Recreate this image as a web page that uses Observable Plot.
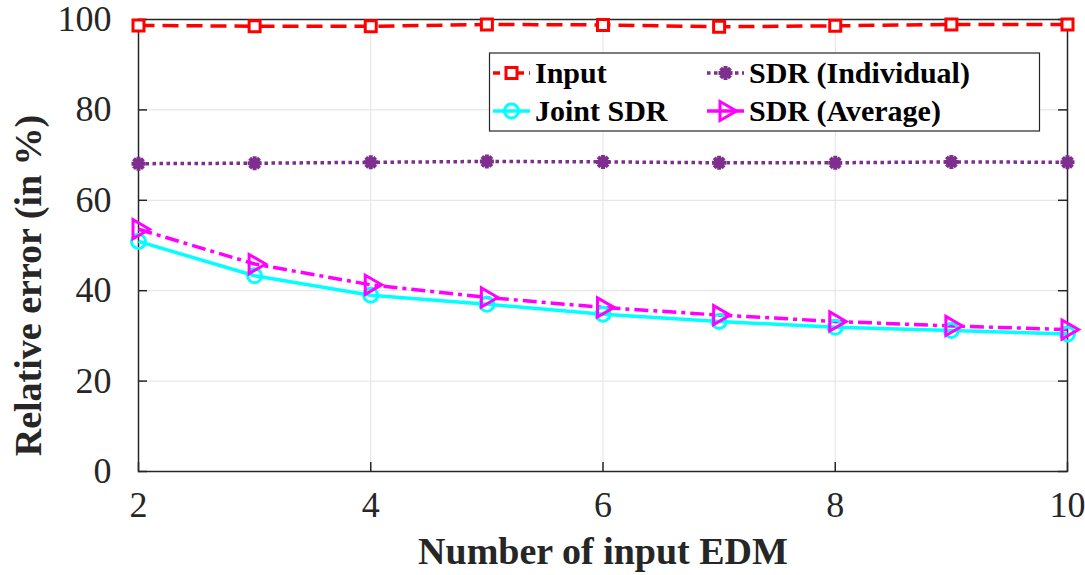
<!DOCTYPE html>
<html>
<head>
<meta charset="utf-8">
<script src="https://cdn.jsdelivr.net/npm/d3@7"></script>
<script src="https://cdn.jsdelivr.net/npm/@observablehq/plot@0.6"></script>
<style>
  body { margin: 0; background: #fff; }
  #chart { width: 1085px; height: 575px; }
</style>
</head>
<body>
<div id="chart"></div>
<script>
// Relative error (%) against the number of input EDMs
const edmCounts = [2, 3, 4, 5, 6, 7, 8, 9, 10];
const inputError = [98.7, 98.5, 98.5, 98.9, 98.8, 98.4, 98.6, 98.9, 98.9];
const jointSdrError = [50.9, 43.3, 39.0, 37.0, 34.8, 33.2, 31.9, 31.2, 30.4];
const sdrIndividualError = [68.1, 68.2, 68.4, 68.6, 68.5, 68.3, 68.3, 68.5, 68.4];
const sdrAverageError = [53.6, 45.9, 41.3, 38.5, 36.3, 34.6, 33.2, 32.2, 31.4];

const xTicks = [2, 4, 6, 8, 10];
const yTicks = [0, 20, 40, 60, 80, 100];
const seriesNames = ["Input", "Joint SDR", "SDR (Individual)", "SDR (Average)"];

// Marker shapes; Plot hands size = π r², so r is recovered as the half-size in px
const half = size => Math.sqrt(size / Math.PI);
const squareMarker = { draw(c, s) { const r = half(s); c.rect(-r, -r, 2 * r, 2 * r); } };
const circleMarker = { draw(c, s) { const r = half(s); c.moveTo(r, 0); c.arc(0, 0, r, 0, 2 * Math.PI); } };
const rightTriangleMarker = { draw(c, s) {
  const r = half(s), h = r * Math.sqrt(3) / 2;
  c.moveTo(r, 0); c.lineTo(-r / 2, -h); c.lineTo(-r / 2, h); c.closePath();
} };
const asteriskMarker = { draw(c, s) {
  const r = half(s), d = r * Math.SQRT1_2;
  c.moveTo(-r, 0); c.lineTo(r, 0);
  c.moveTo(0, -r); c.lineTo(0, r);
  c.moveTo(-d, -d); c.lineTo(d, d);
  c.moveTo(-d, d); c.lineTo(d, -d);
} };

const styles = {
  "Input":            { values: inputError,         color: "#ff0000", dash: "16 8",     legendDash: "7 5",     width: 3.5, symbol: squareMarker,        r: 5.5, fill: "white",   mw: 3 },
  "Joint SDR":        { values: jointSdrError,      color: "#00ffff", dash: null,       legendDash: null,      width: 3.5, symbol: circleMarker,        r: 7,   fill: "none",    mw: 3 },
  "SDR (Individual)": { values: sdrIndividualError, color: "#7e2f8e", dash: "3.5 3.5",  legendDash: "3.5 3.5", width: 3.5, symbol: asteriskMarker,      r: 7,   fill: "#7e2f8e", mw: 4 },
  "SDR (Average)":    { values: sdrAverageError,    color: "#ff00ff", dash: "14 5 4 5", legendDash: null,      width: 3.5, symbol: rightTriangleMarker, r: 11,  fill: "none",    mw: 3 }
};

const rowsFor = name => edmCounts.map((x, i) => ({ x, y: styles[name].values[i], series: name }));

const W = 1085, H = 575;
const M = { left: 138, right: 18, top: 19, bottom: 104 };
const innerW = W - M.left - M.right, innerH = H - M.top - M.bottom;
const TICK = 9;
const ink = "#262626";
const serif = "Liberation Serif, Tinos, DejaVu Serif, serif";

const seriesMarks = [];
// lines first, markers on top
seriesNames.forEach(name => {
  const s = styles[name];
  seriesMarks.push(Plot.line(rowsFor(name), {
    x: "x", y: "y", stroke: s.color, strokeWidth: s.width,
    strokeDasharray: s.dash, strokeLinecap: "butt", strokeLinejoin: "round"
  }));
});
seriesNames.forEach(name => {
  const s = styles[name];
  seriesMarks.push(Plot.dot(rowsFor(name), {
    x: "x", y: "y", symbol: s.symbol, r: s.r,
    stroke: s.color, strokeWidth: s.mw, fill: s.fill
  }));
});

const plot = Plot.plot({
  width: W, height: H,
  marginLeft: M.left, marginRight: M.right, marginTop: M.top, marginBottom: M.bottom,
  style: { fontFamily: serif, background: "white", overflow: "visible" },
  x: { domain: [2, 10] },
  y: { domain: [0, 100] },
  marks: [
    Plot.gridX(xTicks, { stroke: "#e2e2e2", strokeOpacity: 1, strokeWidth: 1 }),
    Plot.gridY(yTicks, { stroke: "#e2e2e2", strokeOpacity: 1, strokeWidth: 1 }),
    // inward ticks on all four sides
    Plot.tickY(yTicks, { y: d => d, stroke: ink, strokeWidth: 1.5, insetRight: innerW - TICK }),
    Plot.tickY(yTicks, { y: d => d, stroke: ink, strokeWidth: 1.5, insetLeft: innerW - TICK }),
    Plot.tickX(xTicks, { x: d => d, stroke: ink, strokeWidth: 1.5, insetTop: innerH - TICK }),
    Plot.tickX(xTicks, { x: d => d, stroke: ink, strokeWidth: 1.5, insetBottom: innerH - TICK }),
    Plot.frame({ stroke: ink, strokeWidth: 1.5 }),
    Plot.axisX(xTicks, { anchor: "bottom", tickSize: 0, tickPadding: 20, fontSize: 36, fontFamily: serif, label: null, color: ink, tickFormat: d => String(d) }),
    Plot.axisY(yTicks, { anchor: "left", tickSize: 0, tickPadding: 27, fontSize: 36, fontFamily: serif, label: null, color: ink, tickFormat: d => String(d) }),
    // axis titles, centred on their anchor points
    Plot.text(["Number of input EDM"], {
      frameAnchor: "bottom", textAnchor: "middle", lineAnchor: "middle", dy: 80,
      fontSize: 38, fontFamily: serif, fontWeight: "bold", fill: ink
    }),
    Plot.text(["Relative error (in %)"], {
      frameAnchor: "left", textAnchor: "middle", lineAnchor: "middle", dx: -110, dy: 40, rotate: -90,
      fontSize: 38, fontFamily: serif, fontWeight: "bold", fill: ink
    }),
    ...seriesMarks
  ]
});

// Legend box with two columns of entries
const svg = d3.select(plot);
const legend = svg.append("g").attr("font-family", serif);
legend.append("rect")
  .attr("x", 489.5).attr("y", 53).attr("width", 550).attr("height", 78)
  .attr("fill", "white").attr("stroke", ink).attr("stroke-width", 1.2);

const slots = [
  { x0: 493, y: 73 },   // Input
  { x0: 493, y: 111 },  // Joint SDR
  { x0: 707, y: 73 },   // SDR (Individual)
  { x0: 707, y: 111 }   // SDR (Average)
];
seriesNames.forEach((name, i) => {
  const s = styles[name], p = slots[i];
  const g = legend.append("g");
  g.append("line")
    .attr("x1", p.x0).attr("x2", p.x0 + 37).attr("y1", p.y).attr("y2", p.y)
    .attr("stroke", s.color).attr("stroke-width", s.width)
    .attr("stroke-dasharray", s.legendDash);
  g.append("path")
    .attr("transform", `translate(${p.x0 + 18.5},${p.y})`)
    .attr("d", d3.symbol().type(s.symbol).size(s.r * s.r * Math.PI)())
    .attr("fill", s.fill).attr("stroke", s.color).attr("stroke-width", s.mw);
  g.append("text")
    .attr("x", p.x0 + 42).attr("y", p.y + 10)
    .attr("text-anchor", "start")
    .attr("font-size", 30).attr("font-weight", "bold").attr("fill", "#000")
    .text(name);
});

// Serif face on every label as a plain presentation attribute
svg.attr("font-family", serif);
svg.selectAll("text").attr("font-family", serif);

document.getElementById("chart").appendChild(plot);
</script>
</body>
</html>
